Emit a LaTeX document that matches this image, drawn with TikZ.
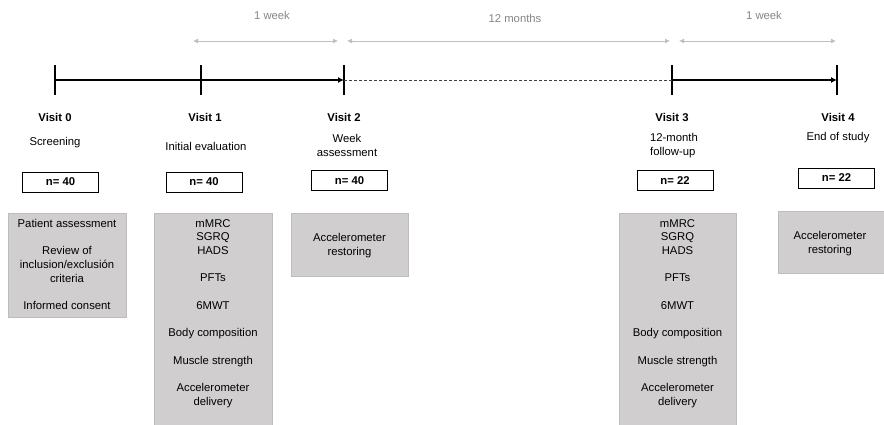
\documentclass[tikz,border=0pt]{standalone}
\usepackage{fontspec}
\setmainfont{Liberation Sans}
\usepackage{xcolor}
\usetikzlibrary{arrows.meta,calc,positioning}
\definecolor{boxgray}{HTML}{D0CECE}
\definecolor{boxline}{HTML}{BDBDBD}
\definecolor{spangray}{HTML}{BFBFBF}
\definecolor{spantext}{HTML}{858585}

\begin{document}
\begin{tikzpicture}[x=1pt, y=-1pt,
    font=\fontsize{11.3}{13.7}\selectfont,
    vtick/.style={line width=1.6pt},
    axis/.style={line width=1.5pt},
    span/.style={draw=spangray, line width=0.8pt,
      {Latex[length=5pt,width=5pt]}-{Latex[length=5pt,width=5pt]}},
    spanlabel/.style={text=spantext},
    visit/.style={font=\fontsize{11.3}{13.7}\selectfont\bfseries},
    sub/.style={align=center},
    nbox/.style={draw, line width=0.8pt, minimum width=76pt, minimum height=20pt,
      inner sep=0pt, font=\fontsize{11.3}{13.7}\selectfont\bfseries},
    actbox/.style={fill=boxgray, draw=boxline, line width=0.8pt},
    acttext/.style={align=center, anchor=north, inner sep=0pt}]
      \useasboundingbox (0,0) rectangle (884,424);

      \coordinate (V0) at (55,80);  \coordinate (V1) at (201,80);
      \coordinate (V2) at (344,80); \coordinate (V3) at (672,80);
      \coordinate (V4) at (837,80);

      \foreach \v in {V0,V1,V2,V3,V4}
        \draw[vtick] ($(\v)+(0,-15)$) -- ($(\v)+(0,15)$);
      \draw[axis] (V0) -- (V1);
      \draw[axis, -{Latex[length=6pt,width=6pt]}] (V1) -- (V2);
      \draw[densely dashed, black!75, line width=0.7pt] (V2) -- (V3);
      \draw[axis, -{Latex[length=6pt,width=6pt]}] (V3) -- (V4);

      \coordinate (S1a) at (193,41); \coordinate (S1b) at (338,41);
      \coordinate (S2a) at (347,41); \coordinate (S2b) at (670,41);
      \coordinate (S3a) at (679,41); \coordinate (S3b) at (836,41);
      \draw[span] (S1a) -- (S1b);
      \draw[span] (S2a) -- (S2b);
      \draw[span] (S3a) -- (S3b);
      \node[spanlabel] (w1) at (272,15) {1 week};
      \node[spanlabel] (m12) at (515,18) {12 months};
      \node[spanlabel] (w2) at (764,15) {1 week};

      \node[visit] (vis0) at (55,117) {Visit 0};
      \node[visit] (vis1) at (205,117) {Visit 1};
      \node[visit] (vis2) at (344,117) {Visit 2};
      \node[visit] (vis3) at (672,117) {Visit 3};
      \node[visit] (vis4) at (838,117) {Visit 4};

      \node[sub] (sub0) at (55,143) {Screening};
      \node[sub] (sub1) at (206,146) {Initial evaluation};
      \node[sub] (sub2) at (347,145.5) {Week\\assessment};
      \node[sub, align=left] (sub3) at (674,145.5) {12-month\\follow-up};
      \node[sub] (sub4) at (838,138) {End of study};

      \node[nbox] (n0) at (60.5,182) {n= 40};
      \node[nbox] (n1) at (204,182) {n= 40};
      \node[nbox] (n2) at (349.5,180.5) {n= 40};
      \node[nbox] (n3) at (675,180.5) {n= 22};
      \node[nbox] (n4) at (836.5,178) {n= 22};

      \draw[actbox] (8,213) rectangle (126,317);
      \draw[actbox] (154,213) rectangle (272,425);
      \draw[actbox] (291,213) rectangle (408,276);
      \draw[actbox] (619,213) rectangle (736,425);
      \draw[actbox] (778,211) rectangle (884.5,273);

      \node[acttext] (t0) at (67,219) {Patient assessment\\[13.7pt]
        Review of\\inclusion/exclusión\\criteria\\[13.7pt]Informed consent};
      \node[acttext] (t1) at (213,219) {mMRC\\SGRQ\\HADS\\[13.7pt]PFTs\\[13.7pt]
        6MWT\\[13.7pt]Body composition\\[13.7pt]Muscle strength\\[13.7pt]
        Accelerometer\\delivery};
      \node[acttext] (t2) at (349.5,233) {Accelerometer\\restoring};
      \node[acttext] (t3) at (677.5,219) {mMRC\\SGRQ\\HADS\\[13.7pt]PFTs\\[13.7pt]
        6MWT\\[13.7pt]Body composition\\[13.7pt]Muscle strength\\[13.7pt]
        Accelerometer\\delivery};
      \node[acttext] (t4) at (830,231) {Accelerometer\\restoring};
    \end{tikzpicture}
\end{document}
